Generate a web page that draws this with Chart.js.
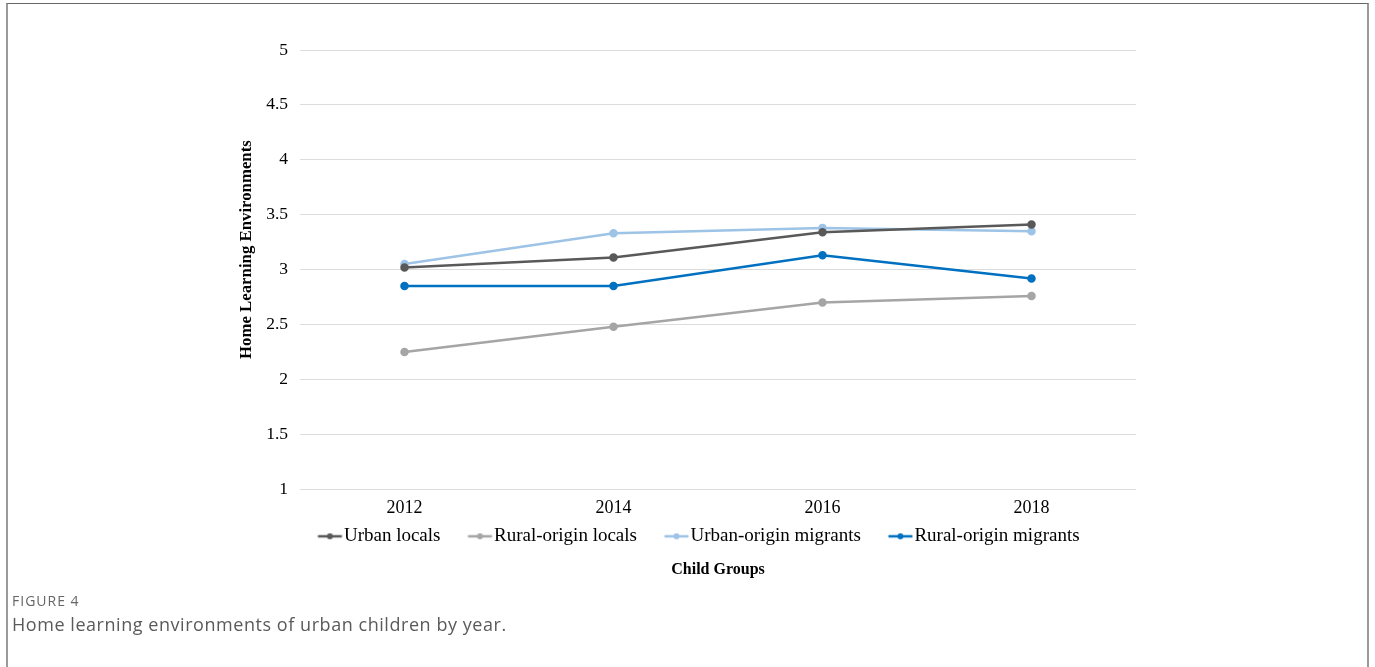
<!DOCTYPE html>
<html>
<head>
<meta charset="utf-8">
<title>Home learning environments</title>
<script src="https://cdn.jsdelivr.net/npm/chart.js@4.4.1/dist/chart.umd.min.js"></script>
<style>
  html, body { margin: 0; padding: 0; background: #fff; overflow: hidden; }
  .frame {
    position: absolute; left: 6px; top: 3px; width: 1359px; height: 700px;
    border-left: 2px solid #9a9a9a; border-right: 2px solid #9a9a9a; border-top: 1px solid #666;
  }
  #wrap { position: absolute; left: 0; top: 0; width: 1375px; height: 592px; }
  .fig-label {
    position: absolute; left: 12px; top: 591px;
    font: 14px "Open Sans", sans-serif; letter-spacing: 1px; color: #666;
  }
  .fig-caption {
    position: absolute; left: 12px; top: 612px;
    font: 18px "Open Sans", sans-serif; letter-spacing: 0.55px; color: #5a5a5a;
  }
</style>
</head>
<body>
<div class="frame"></div>
<div id="wrap"><canvas id="hleChart" width="1375" height="592"></canvas></div>
<div class="fig-label">FIGURE 4</div>
<div class="fig-caption">Home learning environments of urban children by year.</div>

<script>
// survey years along the x-axis
var years = ['2012', '2014', '2016', '2018'];

// mean home learning environment score per child group
var urbanLocals = [3.02, 3.11, 3.34, 3.41];
var ruralLocals = [2.25, 2.48, 2.70, 2.76];
var urbanMigrants = [3.05, 3.33, 3.38, 3.35];
var ruralMigrants = [2.85, 2.85, 3.13, 2.92];

var groupNames = ['Urban locals', 'Rural-origin locals', 'Urban-origin migrants', 'Rural-origin migrants'];
var groupColors = ['#595959', '#a5a5a5', '#9dc3e6', '#0070c0'];

var serif = '"Liberation Serif", "Times New Roman", serif';

// little line-with-dot glyph used in the legend
function legendMark(color) {
  var c = document.createElement('canvas');
  c.width = 64;
  c.height = 12;
  var g = c.getContext('2d');
  g.strokeStyle = color;
  g.lineWidth = 2.5;
  g.beginPath();
  g.moveTo(36.5, 6);
  g.lineTo(60.5, 6);
  g.stroke();
  g.fillStyle = color;
  g.beginPath();
  g.arc(48.5, 6, 3, 0, Math.PI * 2);
  g.fill();
  return c;
}
var marks = groupColors.map(legendMark);

function series(i, values) {
  return {
    label: groupNames[i],
    data: values,
    borderColor: groupColors[i],
    backgroundColor: groupColors[i],
    borderWidth: 2.5,
    pointRadius: 3,
    pointHoverRadius: 3,
    pointStyle: 'circle',
    tension: 0,
    fill: false
  };
}

// rotated y-axis title, sits a little above the middle of the axis
var yTitle = {
  id: 'yTitle',
  afterDraw: function (chart) {
    var ctx = chart.ctx;
    var s = chart.scales.y;
    ctx.save();
    ctx.translate(s.right - 53, (s.top + s.bottom) / 2 - 20);
    ctx.rotate(-Math.PI / 2);
    ctx.font = 'bold 16.8px ' + serif;
    ctx.fillStyle = '#000';
    ctx.textAlign = 'center';
    ctx.textBaseline = 'middle';
    ctx.fillText('Home Learning Environments', 0, 0);
    ctx.restore();
  }
};

var ctx = document.getElementById('hleChart');
var myChart = new Chart(ctx, {
  type: 'line',
  data: {
    labels: years,
    datasets: [
      series(0, urbanLocals),
      series(1, ruralLocals),
      series(2, urbanMigrants),
      series(3, ruralMigrants)
    ]
  },
  options: {
    responsive: false,
    animation: false,
    layout: { padding: { left: 236, right: 239, top: 50, bottom: 7 } },
    scales: {
      x: {
        type: 'category',
        offset: true,
        grid: { display: false },
        border: { display: false },
        ticks: { color: '#000', padding: 0, font: { family: serif, size: 18 } },
        afterFit: function (s) { s.height += 6; }
      },
      y: {
        min: 1,
        max: 5,
        grid: { color: '#dcdcdc', lineWidth: 1, drawTicks: false },
        border: { display: false },
        ticks: {
          stepSize: 0.5,
          color: '#000',
          padding: 12,
          font: { family: serif, size: 17.5 },
          callback: function (v) { return String(+v.toFixed(2)); }
        },
        afterFit: function (s) { s.width = 64; }
      }
    },
    plugins: {
      legend: {
        position: 'bottom',
        labels: {
          usePointStyle: true,
          pointStyleWidth: 42,
          padding: 2,
          color: '#000',
          font: { family: serif, size: 19 },
          generateLabels: function (chart) {
            var items = Chart.defaults.plugins.legend.labels.generateLabels(chart);
            items.forEach(function (it, i) { it.pointStyle = marks[i]; });
            return items;
          }
        }
      },
      title: {
        display: true,
        text: 'Child Groups',
        position: 'bottom',
        fullSize: false,
        color: '#000',
        font: { family: serif, size: 16, weight: 'bold' },
        padding: { top: 4, bottom: 6 }
      },
      tooltip: { enabled: false }
    }
  },
  plugins: [yTitle]
});
</script>
</body>
</html>
